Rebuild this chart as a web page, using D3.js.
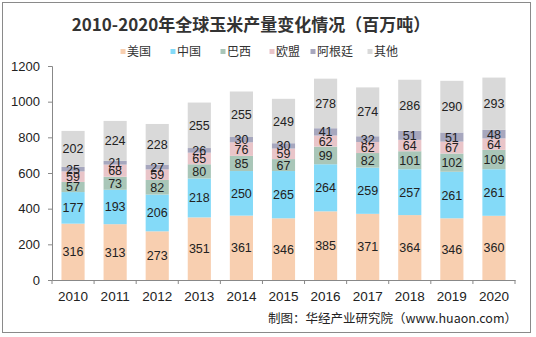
<!DOCTYPE html>
<html><head><meta charset="utf-8">
<script src="https://cdn.jsdelivr.net/npm/d3@7"></script>
<style>body{margin:0;background:#fff}svg{display:block}</style>
</head><body>
<script>
const years = ["2010","2011","2012","2013","2014","2015","2016","2017","2018","2019","2020"];
const seriesNames = ["美国","中国","巴西","欧盟","阿根廷","其他"];
const usa = [316,313,273,351,361,346,385,371,364,346,360];
const china = [177,193,206,218,250,265,264,259,257,261,261];
const brazil = [57,73,82,80,85,67,99,82,101,102,109];
const eu = [59,68,59,65,76,59,62,62,64,67,64];
const argentina = [25,21,27,26,30,30,41,32,51,51,48];
const others = [202,224,228,255,255,249,278,274,286,290,293];
const yTicks = [0,200,400,600,800,1000,1200];
const colors = ["#F8CFB0","#84DAF8","#A9C6B8","#E9C5C9","#A7A7BE","#D9D9D9"];

const W = 536, H = 337;
const svg = d3.select("body").append("svg").attr("width", W).attr("height", H);
const font = "'Liberation Sans', Arial, 'Noto Sans CJK SC', sans-serif";

svg.append("rect").attr("x",2.5).attr("y",2.5).attr("width",528).attr("height",330)
  .attr("fill","#fff").attr("stroke","#8a8a8a").attr("stroke-width",1);

svg.append("text").attr("x",251).attr("y",31).attr("text-anchor","middle")
  .attr("font-family","'Noto Sans CJK SC', sans-serif").attr("font-weight","bold")
  .attr("font-size",17).attr("fill","#333").text("2010-2020年全球玉米产量变化情况（百万吨）");

const x = d3.scaleBand().domain(years).range([52, 515]).paddingInner(0.45).paddingOuter(0.225);
const y = d3.scaleLinear().domain([0,1200]).range([280, 66]);

const table = years.map((yr,i)=>({year:yr, 美国:usa[i], 中国:china[i], 巴西:brazil[i], 欧盟:eu[i], 阿根廷:argentina[i], 其他:others[i]}));
const stacked = d3.stack().keys(seriesNames)(table);

const g = svg.append("g");
stacked.forEach((s,si)=>{
  const grp = g.append("g");
  grp.selectAll("rect").data(s).join("rect")
    .attr("x", d=>x(d.data.year)).attr("width", x.bandwidth())
    .attr("y", d=>y(d[1])).attr("height", d=>y(d[0])-y(d[1]))
    .attr("fill", colors[si]);
});
stacked.forEach((s,si)=>{
  g.append("g").selectAll("text").data(s).join("text")
    .attr("x", d=>x(d.data.year)+x.bandwidth()/2)
    .attr("y", d=>(y(d[0])+y(d[1]))/2)
    .attr("dy","0.36em").attr("text-anchor","middle")
    .attr("font-family",font).attr("font-size",12.5).attr("fill","#222")
    .text(d=>d[1]-d[0]);
});

// y axis
const yAxis = svg.append("g").attr("transform","translate(52,0)")
  .call(d3.axisLeft(y).tickValues(yTicks).tickFormat(d3.format("d")).tickSize(4).tickPadding(8));
yAxis.selectAll("path,line").attr("stroke","#888");
yAxis.selectAll("text").attr("font-family",font).attr("font-size",13).attr("fill","#222");

// x axis
const xAxis = svg.append("g").attr("transform","translate(0,280)")
  .call(d3.axisBottom(x).tickSize(0).tickPadding(11));
xAxis.select("path").attr("stroke","#888");
xAxis.selectAll("text").attr("font-family",font).attr("font-size",13.5).attr("fill","#222");
xAxis.selectAll(".sep").data(d3.range(years.length+1)).join("line")
  .attr("x1", i=>52+i*(463/years.length)).attr("x2", i=>52+i*(463/years.length))
  .attr("y1",0).attr("y2",4).attr("stroke","#888");

// legend
const legX = [123,173,223,272,313,370];
const leg = svg.append("g");
seriesNames.forEach((n,i)=>{
  leg.append("rect").attr("x",legX[i]-2.5).attr("y",49).attr("width",5).attr("height",5).attr("fill",colors[i]);
  leg.append("text").attr("x",legX[i]+4).attr("y",52).attr("dy","0.36em")
    .attr("font-family","'Noto Sans CJK SC', sans-serif").attr("font-size",12).attr("fill","#333").text(n);
});

svg.append("text").attr("x",517).attr("y",318).attr("dy","0.36em").attr("text-anchor","end")
  .attr("font-family","'Noto Sans CJK SC', sans-serif").attr("font-size",12.5).attr("fill","#222")
  .text("制图：华经产业研究院（www.huaon.com）");
</script>
</body></html>
